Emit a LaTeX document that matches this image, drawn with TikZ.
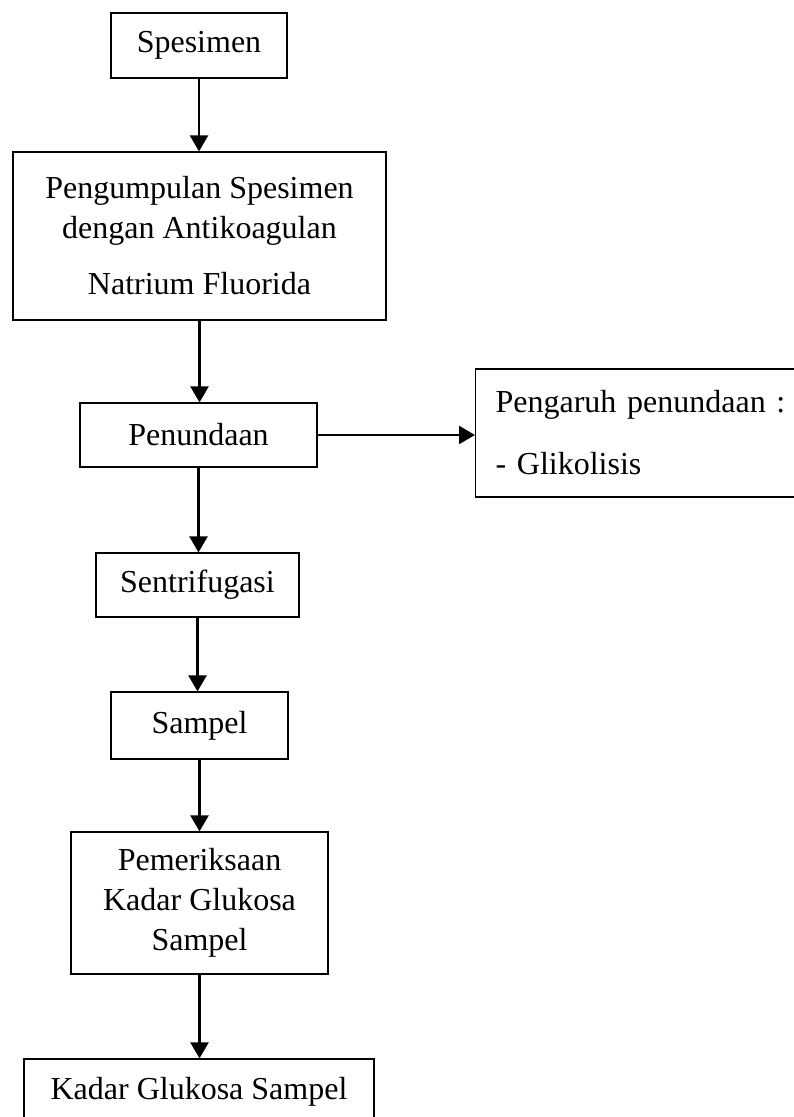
\documentclass[tikz,border=0pt]{standalone}
\usepackage{fontspec}
\setmainfont{Liberation Serif}
\usepackage{xcolor}
\usepackage{tikz}
\usetikzlibrary{arrows.meta,calc}
\definecolor{blackmain}{HTML}{000000}
\tikzset{every node/.append style={font=\fontsize{24}{30}\selectfont},
  kotak/.style={draw=blackmain,line width=.9pt,rectangle,inner sep=0pt,align=center},
  panah/.style={-{Triangle[width=13.5pt,length=12pt]},line width=1.8pt,blackmain}}

\begin{document}
\begin{tikzpicture}[x=.75pt,y=-.75pt]
\useasboundingbox (0,0) rectangle (793,1117);
\node[kotak,minimum width=132pt,minimum height=48.75pt] (spes) at (199,45.5) {Spesimen};
\node[kotak,minimum width=279.75pt,minimum height=126pt] (kumpul) at (199.5,236) {Pengumpulan Spesimen\\dengan Antikoagulan\\[12pt]Natrium Fluorida};
\node[kotak,minimum width=177.75pt,minimum height=48pt] (tunda) at (198.5,435) {Penundaan};
\node[kotak,minimum width=251.25pt,minimum height=96pt,inner xsep=15pt,text width=221.25pt,align=left,anchor=west] (pengaruh) at (475,433) {Pengaruh penundaan :\\[16.5pt]- Glikolisis};
\node[kotak,minimum width=152.25pt,minimum height=48pt] (sentri) at (197.5,585) {Sentrifugasi};
\node[kotak,minimum width=132.75pt,minimum height=50.25pt] (sampel) at (199.5,725.5) {Sampel};
\node[kotak,minimum width=192.75pt,minimum height=106.5pt] (periksa) at (199.5,903) {Pemeriksaan\\Kadar Glukosa\\Sampel};
\node[kotak,minimum width=262.5pt,minimum height=49.5pt] (kadar) at (199,1092) {Kadar Glukosa Sampel};
\draw[panah] (spes.south) -- (spes.south |- kumpul.north);
\draw[panah] (kumpul.south) -- (kumpul.south |- tunda.north);
\draw[panah] (tunda.east) -- (tunda.east -| pengaruh.west);
\draw[panah] (tunda.south) -- (tunda.south |- sentri.north);
\draw[panah] (sentri.south) -- (sentri.south |- sampel.north);
\draw[panah] (sampel.south) -- (sampel.south |- periksa.north);
\draw[panah] (periksa.south) -- (periksa.south |- kadar.north);
\end{tikzpicture}
\end{document}
